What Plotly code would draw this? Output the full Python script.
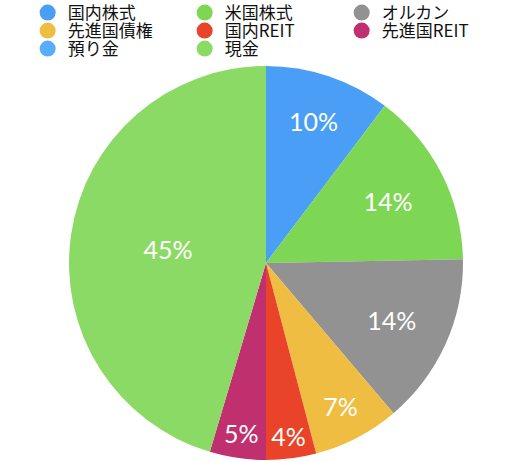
import plotly.graph_objects as go

# asset allocation (percent of total)
labels = ["国内株式", "米国株式", "オルカン", "先進国債権", "国内REIT", "先進国REIT", "預り金", "現金"]
values = [10.3, 14.4, 14.1, 7.1, 4.1, 4.6, 0.0, 45.4]
colors = ["#4a9ef5", "#7ed655", "#929292", "#f0bd43", "#e9432a", "#c0306f", "#57adf7", "#8cda66"]

total = sum(values)
pct_text = [f"{v / total:.0%}" if v > 0 else "" for v in values]

fig = go.Figure()

fig.add_trace(go.Pie(
    labels=labels,
    values=values,
    text=pct_text,
    textinfo="text",
    textposition="inside",
    insidetextorientation="horizontal",
    textfont=dict(family="Lato, Noto Sans", size=25, color="white"),
    marker=dict(colors=colors, line=dict(width=0)),
    sort=False,
    direction="clockwise",
    rotation=0,
    showlegend=False,
    hoverinfo="label+percent",
))

# legend entries with round markers, three per row (one legend per row)
row_legends = ["legend", "legend2", "legend3"]
for i, (name, col) in enumerate(zip(labels, colors)):
    fig.add_trace(go.Scatter(
        x=[None], y=[None], mode="markers", name=name,
        marker=dict(symbol="circle", size=16, color=col),
        showlegend=True,
        legend=row_legends[i // 3],
    ))

legend_style = dict(
    orientation="h",
    xref="container", yref="container",
    x=0.052, xanchor="left", yanchor="middle",
    entrywidth=112,
    font=dict(family="Noto Sans CJK JP", size=17, color="#111111"),
    bgcolor="rgba(0,0,0,0)",
)

fig.update_layout(
    width=532, height=462,
    margin=dict(l=0, r=0, t=66, b=2, autoexpand=False),
    paper_bgcolor="white",
    plot_bgcolor="white",
    xaxis=dict(visible=False),
    yaxis=dict(visible=False),
    uniformtext=dict(minsize=25, mode="show"),
    legend=dict(legend_style, y=1 - 13 / 462),
    legend2=dict(legend_style, y=1 - 31 / 462),
    legend3=dict(legend_style, y=1 - 49 / 462),
)

# drop the default page margin so the figure sits at the window's corner
fig.write_html("out.html", config={"displayModeBar": False},
               post_script="document.body.style.margin = '0';")
